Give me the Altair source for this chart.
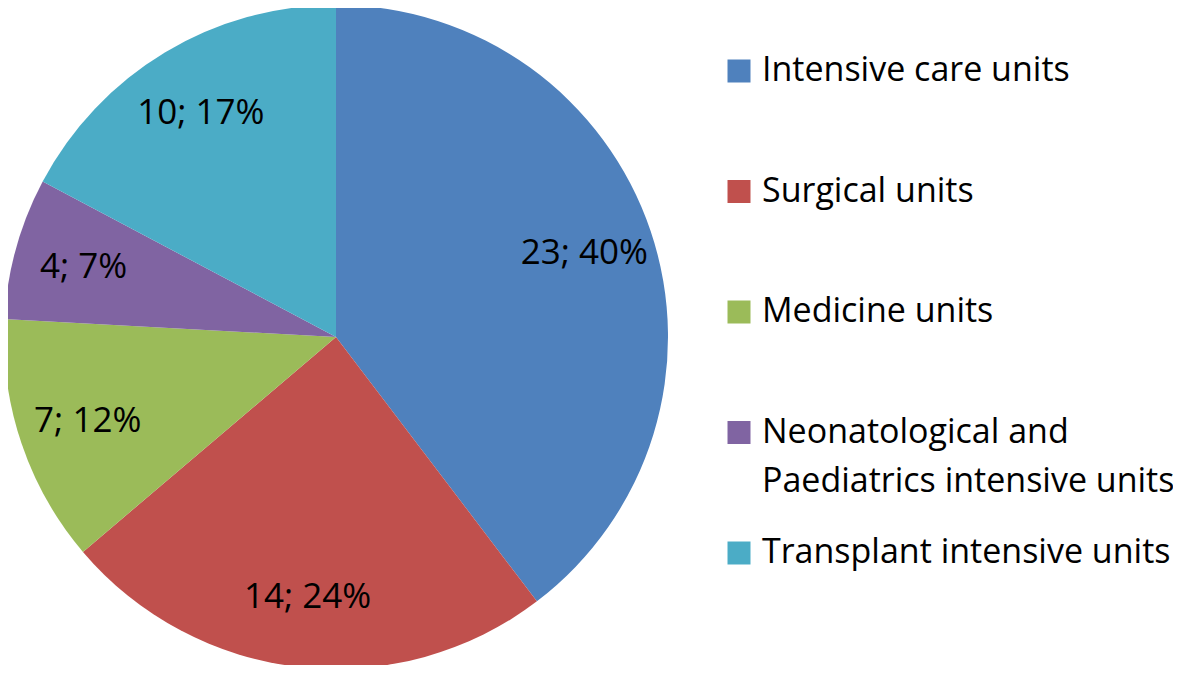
import altair as alt
import pandas as pd

categories = [
    "Intensive care units",
    "Surgical units",
    "Medicine units",
    "Neonatological and\nPaediatrics intensive units",
    "Transplant intensive units",
]
counts = [23, 14, 7, 4, 10]
percents = [40, 24, 12, 7, 17]
colors = ["#4F81BD", "#C0504D", "#9BBB59", "#8064A2", "#4BACC6"]

df = pd.DataFrame({
    "category": categories,
    "count": counts,
    "pct": percents,
    "order": list(range(len(categories))),
})
df["label"] = [f"{c}; {p}%" for c, p in zip(counts, percents)]

FONT = "Open Sans"
CX, CY = 328, 329

color = alt.Color("category:N", scale=alt.Scale(domain=categories, range=colors), legend=None)
base = alt.Chart(df)

pie = base.mark_arc(outerRadius=332).encode(
    theta=alt.Theta("count:Q", stack=True),
    color=color,
    order=alt.Order("order:Q"),
    x=alt.value(CX),
    y=alt.value(CY),
)

pie_labels = base.mark_text(radius=262, font=FONT, fontSize=35, color="black").encode(
    theta=alt.Theta("count:Q", stack=True),
    text="label:N",
    detail="category:N",
    order=alt.Order("order:Q"),
    x=alt.value(CX),
    y=alt.value(CY),
)

leg_y = alt.Y(
    "category:N",
    scale=alt.Scale(type="point", padding=0, domain=categories, range=[63, 545]),
    axis=None,
)

leg_sq = base.mark_square(size=529, opacity=1).encode(
    x=alt.value(731),
    y=leg_y,
    color=color,
)

leg_txt = base.mark_text(
    align="left", baseline="top", dy=-17, font=FONT, fontSize=34,
    lineBreak="\n", lineHeight=49, color="black",
).encode(
    x=alt.value(754),
    y=leg_y,
    text="category:N",
)

chart = alt.layer(pie, pie_labels, leg_sq, leg_txt).properties(
    width=1165, height=657,
    autosize=alt.AutoSizeParams(type="none"),
    padding=0,
).configure_view(strokeWidth=0)

chart.save("out.html", embed_options={"renderer": "svg", "actions": False})
